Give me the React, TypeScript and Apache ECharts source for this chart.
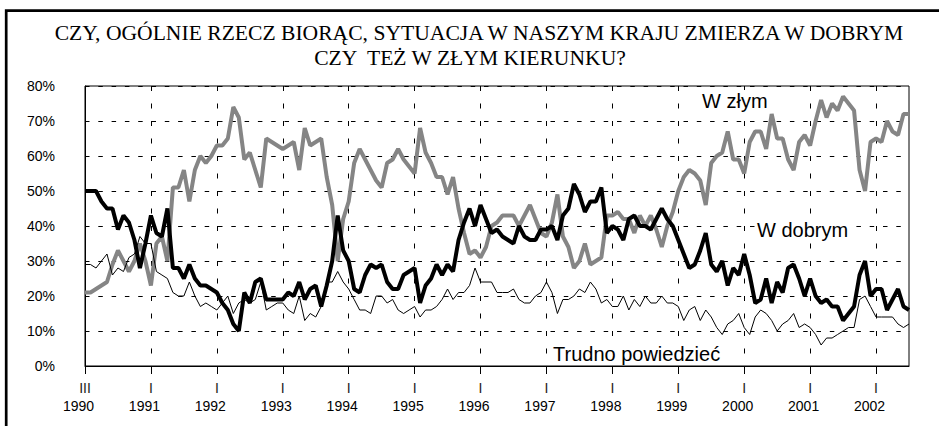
import React, { useEffect, useRef } from "react";
import * as echarts from "echarts";

const TITLE_LINE_1 = "CZY, OGÓLNIE RZECZ BIORĄC, SYTUACJA W NASZYM KRAJU ZMIERZA W DOBRYM";
const TITLE_LINE_2 = "CZY  TEŻ W ZŁYM KIERUNKU?";

// tick labels (one every 12 survey points)
const tickRoman = ["III", "I", "I", "I", "I", "I", "I", "I", "I", "I", "I", "I", "I"];
const tickYears = ["1990", "1991", "1992", "1993", "1994", "1995", "1996", "1997", "1998", "1999", "2000", "2001", "2002"];
const POINTS_PER_TICK = 12;

// W dobrym (good direction)
const good = [
  50, 50, 50, 47, 45, 45, 39, 43, 41, 36, 28, 35, 43, 38, 37, 45, 28, 28, 25, 29, 25, 23, 23, 22, 21, 18, 16, 12, 10, 21, 18, 24, 25, 19, 19, 19,
  19, 21, 20, 24, 19, 22, 23, 17, 23, 30, 43, 33, 30, 22, 21, 26, 29, 28, 29, 24, 22, 22, 26, 27, 28, 18, 23, 25, 29, 26, 29, 27, 36, 41, 45, 40, 46,
  42, 38, 39, 37, 36, 35, 40, 37, 36, 36, 39, 39, 40, 36, 43, 45, 52, 49, 44, 47, 47, 51, 38, 40, 39, 36, 42, 43, 40, 40, 39, 42, 45, 42, 40, 36,
  32, 28, 29, 33, 38, 29, 27, 30, 23, 28, 26, 32, 26, 18, 19, 25, 18, 24, 21, 28, 29, 25, 20, 25, 20, 18, 19, 17, 17, 13, 15, 17, 26, 30, 20, 22, 22, 16, 19, 22, 17, 16,
];

// W złym (bad direction)
const bad = [
  21, 21, 22, 23, 24, 29, 33, 30, 27, 30, 35, 30, 23, 35, 37, 30, 51, 51, 56, 47, 56, 60, 58, 60, 63, 63, 65, 74, 71, 59, 61, 56, 51, 65, 64, 63,
  62, 63, 64, 56, 68, 63, 64, 65, 54, 46, 30, 42, 47, 58, 62, 59, 56, 53, 51, 58, 59, 62, 59, 57, 55, 68, 61, 58, 54, 54, 49, 54, 45, 38, 32, 33, 31,
  34, 40, 41, 43, 43, 43, 40, 43, 46, 42, 38, 37, 41, 49, 37, 34, 28, 30, 35, 29, 30, 31, 43, 43, 44, 42, 42, 38, 43, 40, 43, 39, 34, 40, 44, 50,
  54, 56, 55, 53, 46, 58, 60, 61, 67, 59, 59, 55, 64, 67, 67, 62, 72, 65, 65, 59, 56, 64, 66, 63, 70, 76, 71, 75, 73, 77, 75, 73, 56, 50, 64, 65, 64, 70, 67, 66, 72, 72,
];

// Trudno powiedzieć (hard to say)
const hard = [
  29, 29, 28, 30, 32, 26, 28, 27, 31, 32, 37, 35, 35, 27, 26, 25, 21, 20, 20, 24, 20, 17, 18, 17, 16, 18, 20, 15, 18, 19, 18, 19, 24, 16, 17, 18,
  18, 16, 15, 20, 13, 15, 14, 17, 24, 24, 27, 24, 22, 19, 16, 16, 15, 20, 20, 18, 19, 16, 15, 16, 17, 14, 16, 16, 17, 19, 22, 19, 21, 21, 23, 28, 24,
  24, 24, 21, 21, 21, 22, 19, 18, 18, 20, 21, 24, 21, 15, 19, 19, 20, 22, 21, 24, 22, 18, 19, 17, 17, 20, 16, 19, 17, 20, 18, 18, 20, 18, 18, 17,
  13, 16, 17, 13, 16, 14, 11, 9, 12, 13, 15, 11, 9, 14, 16, 15, 13, 10, 12, 13, 15, 11, 12, 11, 9, 6, 8, 8, 9, 10, 11, 11, 19, 20, 17, 14, 14, 14, 14, 12, 11, 12,
];

const categories = good.map((_, i) => String(i));

const SANS = "Liberation Sans";
const SERIF = "Liberation Serif";

export default function App() {
  const ref = useRef<HTMLDivElement>(null);
  useEffect(() => {
    document.body.style.margin = "0";
    if (!ref.current) return;
    const chart = echarts.init(ref.current, null, { renderer: "svg" });
    const annotation = (text: string, x: number, y: number) => ({
      type: "text",
      x,
      y,
      z: 100,
      style: {
        text,
        fontFamily: SANS,
        fontSize: 20,
        fill: "#000",
        align: "left",
        verticalAlign: "middle",
        backgroundColor: "#fff",
        padding: [1, 2, 1, 2],
      },
    });
    const titleLine = (text: string, x: number, y: number) => ({
      type: "text",
      x,
      y,
      z: 100,
      style: {
        text,
        fontFamily: SERIF,
        fontSize: 21.6,
        fontWeight: "normal",
        fill: "#000",
        align: "center",
        verticalAlign: "middle",
      },
    });
    chart.setOption({
      animation: false,
      backgroundColor: "#fff",
      grid: { left: 85, right: 30, top: 86, bottom: 60, show: true, borderColor: "#000", borderWidth: 1 },
      xAxis: {
        type: "category",
        data: categories,
        boundaryGap: false,
        axisLine: { lineStyle: { color: "#000", width: 1 } },
        axisTick: { show: true, interval: POINTS_PER_TICK - 1, length: 8, lineStyle: { color: "#000" } },
        axisLabel: {
          interval: POINTS_PER_TICK - 1,
          margin: 13,
          color: "#000",
          fontFamily: SANS,
          fontSize: 14,
          formatter: (_v: string, idx: number) => {
            const k = Math.round(idx / POINTS_PER_TICK);
            return `{r|${tickRoman[k]}}\n{y|${tickYears[k]}}`;
          },
          rich: {
            r: { fontFamily: SANS, fontSize: 14, lineHeight: 18, color: "#222" },
            y: { fontFamily: SANS, fontSize: 14, lineHeight: 18, color: "#000", padding: [0, 13, 0, 0] },
          },
        },
        splitLine: {
          show: true,
          interval: POINTS_PER_TICK - 1,
          lineStyle: { color: "#000", width: 1, type: [5, 12.5] },
        },
      },
      yAxis: {
        type: "value",
        min: 0,
        max: 80,
        interval: 10,
        axisLine: { show: true, lineStyle: { color: "#000", width: 1 } },
        axisTick: { show: false },
        axisLabel: { formatter: "{value}%", color: "#000", fontFamily: SANS, fontSize: 14, margin: 30 },
        splitLine: { show: true, lineStyle: { color: "#000", width: 1, type: [4.5, 8.8] } },
      },
      series: [
        { name: "W złym", type: "line", data: bad, symbol: "none", lineStyle: { color: "#858585", width: 4 }, z: 2 },
        { name: "W dobrym", type: "line", data: good, symbol: "none", lineStyle: { color: "#000", width: 4 }, z: 3 },
        { name: "Trudno powiedzieć", type: "line", data: hard, symbol: "none", lineStyle: { color: "#000", width: 1 }, z: 4 },
      ],
      graphic: [
        {
          type: "rect",
          x: 6.2,
          y: 10.7,
          shape: { x: 0, y: 0, width: 1400, height: 900 },
          style: { fill: "none", stroke: "#000", lineWidth: 2.7 },
          silent: true,
        },
        titleLine(TITLE_LINE_1, 479, 33),
        titleLine(TITLE_LINE_2, 470, 58),
        annotation("W złym", 700, 101),
        annotation("W dobrym", 755, 230),
        annotation("Trudno powiedzieć", 551, 354),
      ],
    });
    return () => chart.dispose();
  }, []);
  return <div ref={ref} style={{ width: 939, height: 426 }} />;
}
